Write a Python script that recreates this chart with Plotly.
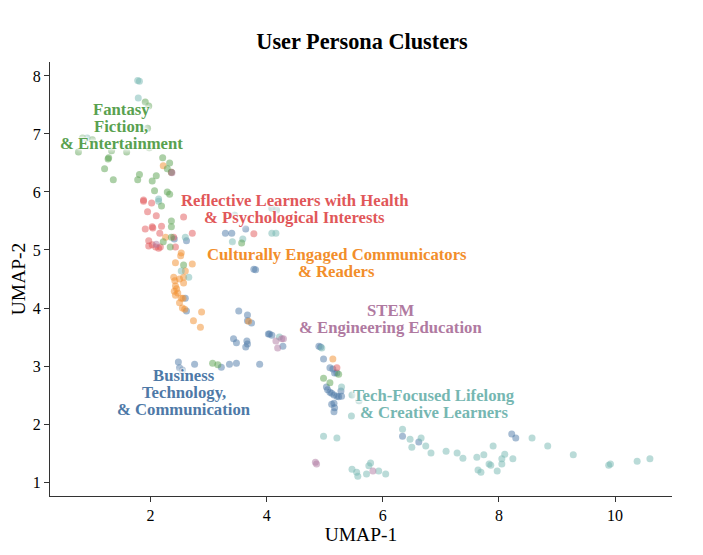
import plotly.graph_objects as go

# UMAP coordinates, one pair of lists per persona cluster
green_x = [1.28, 1.27, 1.21, 1.36, 1.78, 1.81, 2.03, 2.10, 2.21, 2.33, 2.29, 2.36, 2.07, 2.29, 2.33,
           2.19, 2.36, 2.36, 2.36, 2.22, 2.34, 2.57, 0.83, 0.76, 1.00, 1.33, 1.59, 1.95, 1.98, 1.91,
           1.97, 3.07, 3.16, 4.98, 5.09, 5.24, 3.57]
green_y = [6.59, 6.57, 6.40, 6.21, 6.21, 6.30, 6.19, 6.28, 6.59, 6.50, 6.40, 6.34, 6.02, 6.00, 5.96,
           5.76, 5.50, 5.40, 5.22, 5.14, 5.05, 4.74, 6.93, 6.69, 6.90, 6.71, 6.69, 7.10, 6.76, 7.55,
           7.48, 3.05, 3.02, 2.79, 2.71, 2.86, 5.12]

teal_x = [1.78, 1.81, 1.79, 0.91, 2.14, 2.14, 2.60, 2.53, 2.66, 3.41, 3.59, 4.09, 4.16, 4.09, 4.17,
          3.45, 4.22, 4.95, 5.29, 4.98, 5.21, 5.47, 5.55, 5.57, 5.72, 5.76, 5.79, 5.93, 6.05, 6.34,
          6.47, 6.50, 6.66, 6.74, 6.83, 7.09, 7.28, 7.38, 7.62, 7.74, 7.90, 7.64, 7.69, 7.83, 7.86,
          7.97, 8.05, 8.05, 8.10, 8.24, 8.57, 8.84, 9.28, 9.89, 9.92, 10.38, 10.60, 5.47, 5.59, 5.46]
teal_y = [7.92, 7.91, 7.62, 6.93, 5.88, 5.84, 5.22, 4.64, 4.53, 5.14, 5.19, 5.29, 5.29, 5.72, 5.69,
          5.60, 3.50, 3.31, 2.64, 1.79, 1.76, 1.22, 1.17, 1.10, 1.14, 1.28, 1.33, 1.19, 1.14, 1.91,
          1.74, 1.60, 1.76, 1.62, 1.50, 1.53, 1.50, 1.41, 1.43, 1.47, 1.62, 1.21, 1.17, 1.31, 1.29,
          1.19, 1.31, 1.40, 1.48, 1.40, 1.76, 1.62, 1.47, 1.29, 1.31, 1.36, 1.40, 2.50, 2.40, 2.14]

red_x = [1.88, 1.88, 2.02, 1.95, 2.10, 1.91, 2.03, 2.04, 2.19, 2.16, 2.40, 2.72, 1.97, 1.97, 2.03,
         2.09, 2.14, 2.17, 2.43, 2.36, 2.57, 3.78, 5.21]
red_y = [5.86, 5.84, 5.81, 5.66, 5.59, 5.36, 5.40, 5.38, 5.41, 5.29, 5.22, 5.29, 5.16, 5.07, 5.09,
         5.05, 5.03, 5.05, 5.05, 6.34, 5.57, 5.28, 2.97]

orange_x = [2.22, 2.26, 2.53, 2.52, 2.43, 2.72, 2.60, 2.40, 2.42, 2.50, 2.57, 2.57, 2.43, 2.45, 2.41,
            2.47, 2.43, 2.53, 2.56, 2.50, 2.55, 2.59, 2.88, 2.74, 2.86, 3.69, 5.14]
orange_y = [6.45, 5.22, 4.95, 4.90, 4.78, 4.76, 4.64, 4.53, 4.47, 4.50, 4.53, 4.43, 4.38, 4.33, 4.29,
            4.26, 4.22, 4.17, 4.17, 4.09, 4.00, 3.98, 3.93, 3.78, 3.67, 3.77, 3.12]

blue_x = [2.41, 2.62, 2.60, 2.62, 3.52, 3.67, 3.67, 3.74, 3.43, 3.48, 3.66, 3.67, 3.64, 4.03, 4.09,
          4.05, 4.28, 3.88, 3.48, 3.36, 3.22, 2.76, 2.48, 3.29, 3.40, 3.78, 3.81, 4.90, 4.93, 4.98,
          5.09, 5.14, 5.17, 5.21, 5.03, 5.05, 5.09, 5.12, 5.16, 5.21, 5.24, 5.29, 5.28, 5.16, 5.12,
          5.17, 5.16, 6.34, 6.62, 8.22, 8.29, 2.50, 2.55, 3.64]
blue_y = [5.19, 5.16, 4.17, 3.95, 3.95, 3.88, 3.78, 3.74, 3.47, 3.40, 3.43, 3.38, 3.33, 3.55, 3.53,
          3.55, 3.34, 3.03, 3.05, 3.03, 2.98, 3.03, 3.07, 5.29, 5.29, 4.67, 4.66, 3.34, 3.33, 3.12,
          2.97, 2.95, 2.88, 2.88, 2.64, 2.59, 2.55, 2.53, 2.50, 2.48, 2.47, 2.48, 2.57, 2.36, 2.34,
          2.28, 2.21, 1.79, 1.69, 1.83, 1.76, 2.97, 2.93, 5.36]

purple_x = [2.10, 2.37, 4.16, 4.26, 4.29, 4.19, 4.84, 4.86, 5.83]
purple_y = [5.10, 6.33, 3.43, 3.47, 3.47, 3.31, 1.34, 1.31, 1.19]

# cluster labels (one entry per line) and where each block is centred
label_lines = [["Fantasy", "Fiction,", "& Entertainment"],
               ["Reflective Learners with Health", "& Psychological Interests"],
               ["Culturally Engaged Communicators", "& Readers"],
               ["STEM", "& Engineering Education"],
               ["Business", "Technology,", "& Communication"],
               ["Tech-Focused Lifelong", "& Creative Learners"]]
label_x = [1.50, 4.48, 5.21, 6.14, 2.57, 6.88]
label_y = [7.12, 5.70, 4.78, 3.81, 2.55, 2.34]

C_BLUE = '#4e79a7'
C_ORANGE = '#f28e2b'
C_RED = '#e15759'
C_TEAL = '#76b7b2'
C_GREEN = '#59a14f'
C_PURPLE = '#b07aa1'
label_color = [C_GREEN, C_RED, C_ORANGE, C_PURPLE, C_BLUE, C_TEAL]

SERIF = 'Liberation Serif, Times New Roman, serif'
LINE_H = 17

fig = go.Figure()

clusters = [(blue_x, blue_y, C_BLUE), (orange_x, orange_y, C_ORANGE), (red_x, red_y, C_RED),
            (teal_x, teal_y, C_TEAL), (green_x, green_y, C_GREEN), (purple_x, purple_y, C_PURPLE)]
for xs, ys, col in clusters:
    fig.add_trace(go.Scatter(x=xs, y=ys, mode='markers', showlegend=False,
                             marker=dict(color=col, size=7, opacity=0.5, line=dict(width=0))))

# wide white halo round the label text (washes out the points underneath, like the reference)
halo = ', '.join(['0 0 2px rgba(255,255,255,1)'] * 3 + ['0 0 6px rgba(255,255,255,0.9)'] * 4)
for lines, lx, ly, col in zip(label_lines, label_x, label_y, label_color):
    n = len(lines)
    for i, t in enumerate(lines):
        fig.add_annotation(x=lx, y=ly, text='<b>' + t + '</b>', showarrow=False,
                           xanchor='center', yanchor='middle', align='center',
                           yshift=((n - 1) / 2 - i) * LINE_H,
                           font=dict(family=SERIF, size=16.7, color=col, shadow=halo))

# the page body adds ~8px of offset, so margins are trimmed to land the axes where the reference has them
fig.update_layout(
    width=703, height=555,
    margin=dict(l=42, r=39, t=54, b=67),
    paper_bgcolor='white', plot_bgcolor='white',
    font=dict(family=SERIF, size=16, color='black'),
    title=dict(text='<b>User Persona Clusters</b>', x=354 / 703, xanchor='center',
               y=1 - 33 / 555, yanchor='middle', font=dict(family=SERIF, size=22.3, color='black')),
)
fig.update_xaxes(range=[0.27, 10.98], showgrid=False, zeroline=False, automargin=False,
                 showline=True, linecolor='#333333', linewidth=1.3,
                 ticks='outside', ticklen=5, tickcolor='#333333', dtick=2, tick0=0,
                 title=dict(text='UMAP-1', font=dict(size=19.5), standoff=2))
fig.update_yaxes(range=[0.76, 8.24], showgrid=False, zeroline=False, automargin=False,
                 showline=True, linecolor='#333333', linewidth=1.3,
                 ticks='outside', ticklen=5, tickcolor='#333333', dtick=1,
                 title=dict(text='UMAP-2', font=dict(size=19.5), standoff=3))

fig.write_html("out.html")
